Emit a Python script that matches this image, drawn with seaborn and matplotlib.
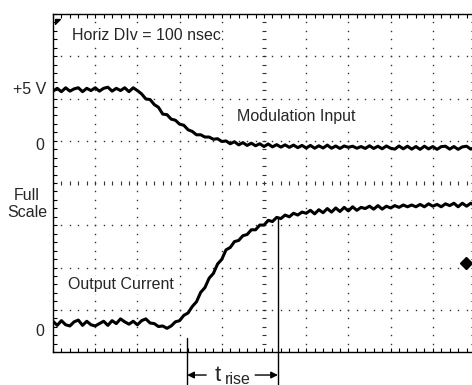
import numpy as np
import pandas as pd
import matplotlib
matplotlib.use("Agg")
import matplotlib.pyplot as plt
from matplotlib.path import Path
import seaborn as sns

# ---------------- data ----------------
time_ns = list(range(0, 1001, 10))  # sample instants, 10 ns apart

modulation_v = [
    4.9, 5.15, 4.85, 5.2, 4.9, 5.1, 5.2, 4.85, 5.15, 4.95, 5.2, 4.9, 5.15, 5.25, 4.9, 5.15, 4.95, 5.2, 4.85, 5.2, 4.95,
    4.65, 4.2, 4.15, 3.7, 3.45, 2.85, 2.8, 2.4, 2.3, 1.95, 1.85, 1.45, 1.3, 1.0, 1.0, 0.8, 0.8, 0.6, 0.65, 0.4,
    0.45, 0.2, 0.38, 0.1, 0.3, 0.05, 0.25, 0.02, 0.2, -0.05, 0.18, -0.08, 0.12, -0.1, 0.1, -0.12, 0.08, -0.15, 0.05, -0.18,
    0.05, -0.2, 0.02, -0.18, 0.08, -0.2, 0.0, -0.22, 0.0, -0.12, -0.02, -0.2, -0.05, -0.22, 0.02, -0.22, -0.02, -0.25, 0.0, -0.2,
    -0.28, 0.0, -0.25, -0.02, -0.28, -0.05, -0.3, -0.02, -0.26, -0.05, -0.3, -0.06, -0.02, -0.28, -0.05, -0.3, -0.08, -0.02, -0.28, -0.1,
]

output_pct = [
    1.5, -2.0, 2.0, -1.5, -2.5, 1.0, 2.5, -2.0, 1.5, -1.5, -2.5, -0.5, 1.5, -2.0, 2.0, -0.5, 3.5, 1.0, -1.0, 1.5, -1.5,
    2.0, 3.5, 0.0, -0.5, -3.0, -2.5, -4.5,
    -2.5, 1.0, 2.0, 6.5, 8.5, 14.0, 18.0, 26.0, 30.0, 38.0, 42.0, 50.0, 54.0,
    62, 64, 69, 70, 74, 75, 79, 79, 83, 83, 87, 86, 89.5, 88.5, 91.5, 90, 93, 91.5, 94, 93,
    95.5, 92.5, 96, 93.5, 97, 94, 97.5, 94.5, 98, 95, 98.5, 95.5, 98, 97, 99, 96.5, 99.5, 96.5, 99, 97.5,
    99.5, 98, 100, 98.5, 100, 98.5, 100.5, 98.5, 101, 99, 100.5, 98.5, 101, 99.5, 101.5, 98.5, 101.5, 99, 101.5, 99.5,
]

t_rise_start_ns = 318
t_rise_end_ns = 533
rise_top_pct = 90

# channel settings (screen divisions)
MOD_OFFSET_DIV, MOD_DIV_PER_V = 4.876, 0.265
CUR_OFFSET_DIV, CUR_DIV_PER_FS = 0.686, 2.793

# ---------------- figure ----------------
sns.set_style("white")
plt.rcParams["font.family"] = ["Liberation Sans", "DejaVu Sans"]

W, H = 472, 385
fig = plt.figure(figsize=(W / 100, H / 100), dpi=100)
ax = fig.add_axes([53 / W, 33 / H, 422 / W, 338 / H])
ax.set_xlim(0, 1000)
ax.set_ylim(0, 8)

df = pd.DataFrame({
    "t": time_ns + time_ns,
    "div": [MOD_OFFSET_DIV + v * MOD_DIV_PER_V for v in modulation_v]
           + [CUR_OFFSET_DIV + p / 100 * CUR_DIV_PER_FS for p in output_pct],
    "trace": ["Modulation Input"] * len(time_ns) + ["Output Current"] * len(time_ns),
})

# dotted graticule
minor_x = np.arange(0, 1000.1, 20)
minor_y = np.arange(0, 8.01, 0.2)
for gx in range(100, 1000, 100):
    if gx == 500:
        continue
    ax.plot([gx] * len(minor_y), minor_y, ls="none", marker="s", ms=1.0,
            mec="none", mfc="#333333", zorder=1)
for gy in range(1, 8):
    if gy == 4:
        continue
    ax.plot(minor_x, [gy] * len(minor_x), ls="none", marker="s", ms=1.0,
            mec="none", mfc="#333333", zorder=1)
# centre cross with minor ticks
ax.plot([500] * len(minor_y), minor_y, ls="none", marker="_", ms=3.5, mew=0.8,
        color="#333333", zorder=1)
ax.plot(minor_x, [4] * len(minor_x), ls="none", marker="|", ms=3.5, mew=0.8,
        color="#333333", zorder=1)

sns.lineplot(data=df, x="t", y="div", hue="trace", units="trace", estimator=None,
             palette=["black", "black"], linewidth=2.2, legend=False, ax=ax, zorder=3)

# frame and ticks
for s in ax.spines.values():
    s.set_color("black")
    s.set_linewidth(1.0)
ax.set_xticks(minor_x)
ax.set_yticks(minor_y)
ax.tick_params(direction="in", length=3, width=0.8, top=True, right=True,
               bottom=True, left=True, labelbottom=False, labelleft=False, color="black")
ax.set_xlabel("")
ax.set_ylabel("")

# markers
tri = Path([(0, 0), (1, 0), (0, -1), (0, 0)], [Path.MOVETO, Path.LINETO, Path.LINETO, Path.CLOSEPOLY])
ax.plot([5], [7.88], marker=tri, ms=7, color="black", clip_on=False, zorder=5)
ax.plot([979], [2.1], marker="D", ms=6, color="black", clip_on=False, zorder=5)

# texts
fs = 11.5
ax.text(45, 7.5, "Horiz DIv = 100 nsec", fontsize=fs, va="center", ha="left",
        bbox=dict(facecolor="white", edgecolor="none", pad=1), zorder=4)
ax.text(437, 5.57, "Modulation Input", fontsize=fs, va="center", ha="left",
        bbox=dict(facecolor="white", edgecolor="none", pad=1), zorder=4)
ax.text(36, 1.59, "Output Current", fontsize=fs, va="center", ha="left",
        bbox=dict(facecolor="white", edgecolor="none", pad=1), zorder=4)

fig.text(46 / W, 1 - 90 / H, "+5 V", fontsize=fs, ha="right", va="center")
fig.text(44 / W, 1 - 146 / H, "0", fontsize=fs, ha="right", va="center")
fig.text(27 / W, 1 - 204 / H, "Full\nScale", fontsize=fs, ha="center", va="center",
         linespacing=1.1)
fig.text(44 / W, 1 - 332 / H, "0", fontsize=fs, ha="right", va="center")

# rise-time annotation
y_bottom = -0.8
ax.plot([t_rise_start_ns, t_rise_start_ns], [y_bottom, 0.33], color="black", lw=1.0,
        clip_on=False, zorder=4)
y_top = CUR_OFFSET_DIV + rise_top_pct / 100 * CUR_DIV_PER_FS
ax.plot([t_rise_end_ns, t_rise_end_ns], [y_bottom, y_top], color="black", lw=1.0,
        clip_on=False, zorder=4)
y_arr = -0.545
ax.annotate("", xy=(t_rise_start_ns, y_arr), xytext=(363, y_arr),
            arrowprops=dict(arrowstyle="-|>", color="black", lw=1.0,
                            shrinkA=0, shrinkB=0, mutation_scale=10),
            annotation_clip=False)
ax.annotate("", xy=(t_rise_end_ns, y_arr), xytext=(479, y_arr),
            arrowprops=dict(arrowstyle="-|>", color="black", lw=1.0,
                            shrinkA=0, shrinkB=0, mutation_scale=10),
            annotation_clip=False)
ax.text(390, y_arr, "t", fontsize=16, ha="center", va="center", clip_on=False)
ax.text(438, -0.64, "rise", fontsize=11.5, ha="center", va="center", clip_on=False)

fig.savefig("out.png", dpi=100)
